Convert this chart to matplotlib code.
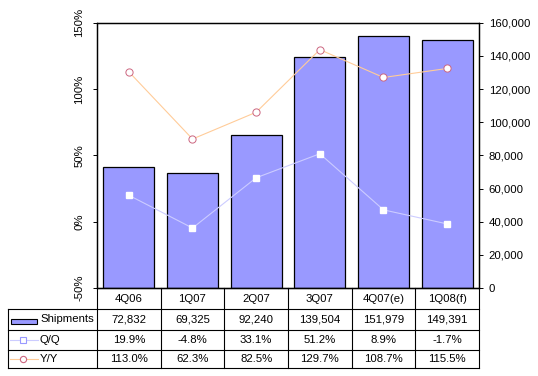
import numpy as np
import matplotlib.pyplot as plt
from matplotlib.lines import Line2D
from matplotlib.patches import Rectangle
from matplotlib.ticker import FuncFormatter

plt.rcParams['font.family'] = ['Liberation Sans', 'DejaVu Sans']
plt.rcParams['font.size'] = 8.2

# Data
quarters = ['4Q06', '1Q07', '2Q07', '3Q07', '4Q07(e)', '1Q08(f)']
shipments = [72832, 69325, 92240, 139504, 151979, 149391]
qoq = [19.9, -4.8, 33.1, 51.2, 8.9, -1.7]
yoy = [113.0, 62.3, 82.5, 129.7, 108.7, 115.5]
row_names = ['Shipments', 'Q/Q', 'Y/Y']

W, H = 538, 376
bar_color = '#9999FF'
qoq_line, qoq_edge = '#CCCCFF', '#9999FF'
yoy_line, yoy_edge = '#FFCC99', '#CC6680'

fig = plt.figure(figsize=(W / 100, H / 100), dpi=100)


def fx(px):
    return px / W


def fy(py):
    return 1 - py / H


# plot area in pixels (left, top, right, bottom)
L, T, R, B = 97, 22.7, 479, 288
ax = fig.add_axes([fx(L), fy(B), fx(R) - fx(L), fy(T) - fy(B)])
axp = ax.twinx()

x = np.arange(len(quarters))
ax.bar(x, shipments, width=0.8, color=bar_color, edgecolor='black', linewidth=0.9, zorder=2)
ax.set_xlim(-0.5, len(quarters) - 0.5)
ax.set_ylim(0, 160000)
ax.set_yticks(np.arange(0, 160001, 20000))
ax.yaxis.set_major_formatter(FuncFormatter(lambda v, p: '{:,.0f}'.format(v)))
ax.yaxis.tick_right()
ax.tick_params(axis='y', direction='out', length=3, width=0.7, pad=4)
ax.set_xticks([])

axp.plot(x, qoq, color=qoq_line, lw=0.8, marker='s', ms=4.5, mfc='white', mec='white', zorder=3)
axp.plot(x, yoy, color=yoy_line, lw=0.8, marker='o', ms=5.2, mfc='white', mec=yoy_edge, mew=0.7, zorder=3)
axp.set_ylim(-50, 150)
axp.set_yticks(np.arange(-50, 151, 50))
axp.yaxis.set_major_formatter(FuncFormatter(lambda v, p: '{:.0f}%'.format(v)))
axp.yaxis.tick_left()
axp.tick_params(axis='y', direction='out', length=3, width=0.7, pad=6)
for lab in axp.get_yticklabels():
    lab.set_rotation(90)
    lab.set_va('center')

for a in (ax, axp):
    for s in a.spines.values():
        s.set_linewidth(0.9)
        s.set_color('black')

# data table under the plot
rows_y = [288, 309, 330, 350, 368]
tl = 8
col_x = np.linspace(L, R, len(quarters) + 1)
lw = 0.8
fig.add_artist(Line2D([fx(L), fx(R)], [fy(rows_y[0])] * 2, color='black', lw=lw))
for yy in rows_y[1:]:
    fig.add_artist(Line2D([fx(tl), fx(R)], [fy(yy)] * 2, color='black', lw=lw))
for cx in col_x:
    fig.add_artist(Line2D([fx(cx)] * 2, [fy(rows_y[0]), fy(rows_y[-1])], color='black', lw=lw))
fig.add_artist(Line2D([fx(tl)] * 2, [fy(rows_y[1]), fy(rows_y[-1])], color='black', lw=lw))

centers = (col_x[:-1] + col_x[1:]) / 2
row_c = [(rows_y[i] + rows_y[i + 1]) / 2 for i in range(len(rows_y) - 1)]
table_vals = [
    quarters,
    ['{:,}'.format(v) for v in shipments],
    ['{:.1f}%'.format(v) for v in qoq],
    ['{:.1f}%'.format(v) for v in yoy],
]
for r, vals in enumerate(table_vals):
    for c, txt in enumerate(vals):
        fig.text(fx(centers[c]), fy(row_c[r]), txt, ha='center', va='center')

# row headers with legend keys
fig.add_artist(Rectangle((fx(11), fy(324)), fx(26), fy(0) - fy(5), facecolor=bar_color,
                         edgecolor='black', lw=0.8))
fig.add_artist(Line2D([fx(10), fx(38)], [fy(row_c[2])] * 2, color=qoq_line, lw=0.8))
fig.add_artist(Line2D([fx(23)], [fy(row_c[2])], marker='s', ms=4, mfc='white', mec=qoq_edge, mew=0.8))
fig.add_artist(Line2D([fx(10), fx(38)], [fy(row_c[3])] * 2, color=yoy_line, lw=0.8))
fig.add_artist(Line2D([fx(23)], [fy(row_c[3])], marker='o', ms=4.5, mfc='white', mec=yoy_edge, mew=0.8))
for r, name in enumerate(row_names):
    fig.text(fx(40), fy(row_c[r + 1]), name, ha='left', va='center')

plt.savefig('out.png', dpi=100)
